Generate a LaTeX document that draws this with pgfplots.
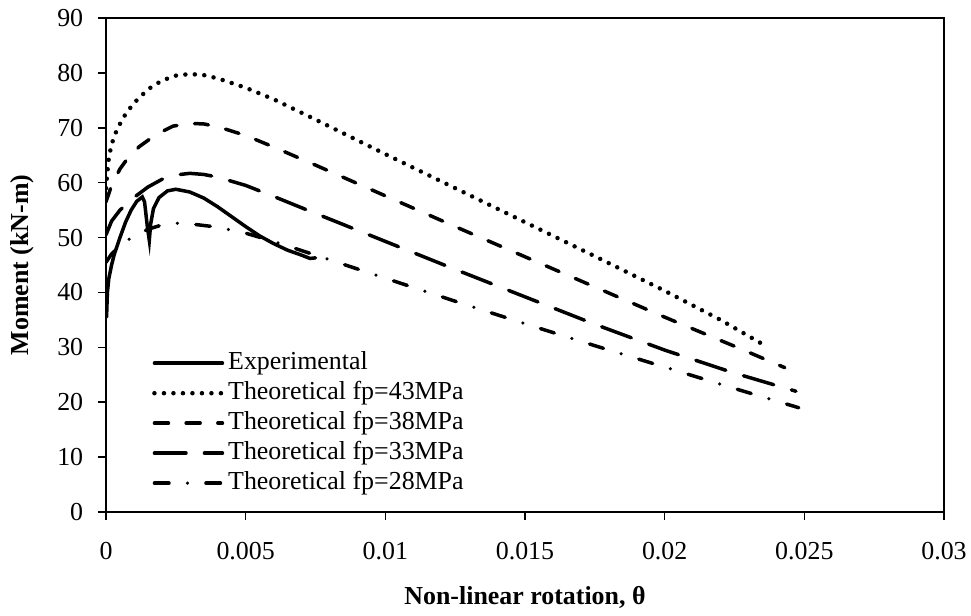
\documentclass[border=0pt]{standalone}
\usepackage{fontspec}
\setmainfont{Liberation Serif}
\usepackage{pgfplots}
\pgfplotsset{compat=1.18}

\begin{document}
\fontsize{26}{31}\selectfont
\begin{tikzpicture}
\useasboundingbox (-106bp,-104bp) rectangle (865bp,512bp);
\begin{axis}[
scale only axis,
width=838bp, height=494bp,
xmin=0, xmax=0.03,
ymin=0, ymax=90,
xtick={0,0.005,0.01,0.015,0.02,0.025,0.03},
xticklabels={0,0.005,0.01,0.015,0.02,0.025,0.03},
scaled x ticks=false,
ytick={0,10,20,30,40,50,60,70,80,90},
xtick pos=left, ytick pos=left,
tick align=outside,
major tick length=8bp,
axis line style={line width=1.5bp},
tick style={line width=1.5bp, black},
/pgf/number format/assume math mode=true,
xticklabel style={yshift=-13bp},
yticklabel style={xshift=-6bp},
xlabel={\bfseries Non-linear rotation, θ},
ylabel={\bfseries Moment (kN-m)},
xlabel style={at={(axis description cs:0.5,-0.172)}, anchor=center},
ylabel style={at={(axis description cs:-0.1002,0.5)}, anchor=center},
legend cell align=left,
legend style={draw=none, fill=none, inner sep=0pt, row sep=0pt,
  at={(axis description cs:0.0549,0.332)}, anchor=north west,
  nodes={inner xsep=3.5bp, inner ysep=2.5bp, text height=18.5bp, text depth=6.5bp}},
legend image code/.code={\draw[#1] (0bp,0bp) -- (68bp,0bp);},
every axis plot/.append style={line width=3.5bp, black, line cap=round},
]

% experimental
\addplot[solid] coordinates {
(0.00002,35.5) (0.00005,40) (0.0001,42.5) (0.0002,45) (0.0003,47)
(0.0005,50) (0.0007,52.8) (0.0009,55) (0.0011,56.6) (0.0013,57.4)
(0.00138,56.5) (0.00148,52) (0.00155,49.5) (0.0016,52.5) (0.0017,55.3)
(0.0019,57.3) (0.0022,58.5) (0.0025,58.8) (0.003,58.3) (0.0035,57.2)
(0.004,55.6) (0.0045,53.8) (0.005,52) (0.0055,50.3) (0.006,48.9)
(0.0065,47.7) (0.007,46.8) (0.0073,46.2) (0.0075,46.3)
};

% fp = 43 MPa
\addplot[line width=4.5bp, dash pattern=on 0bp off 9.5bp] coordinates {
(0,59) (0.00005,62) (0.0001,64.5) (0.0002,67) (0.0004,69.8) (0.0007,72.5)
(0.001,74.5) (0.0015,77) (0.002,78.6) (0.0025,79.5) (0.003,79.8)
(0.0035,79.6) (0.004,79) (0.005,77.3) (0.006,75.2) (0.0075,71.5)
(0.01,65.2) (0.0125,59) (0.015,52.8) (0.0175,46.6) (0.02,40.3)
(0.022,35) (0.0235,30.6)
};

% fp = 38 MPa
\addplot[dash pattern=on 14bp off 17.7bp] coordinates {
(0,56.5) (0.0002,59.5) (0.0005,62.5) (0.0008,64.6) (0.0012,66.6)
(0.0018,68.8) (0.0024,70.3) (0.003,70.8) (0.0035,70.7) (0.004,70.2)
(0.005,68.6) (0.006,66.5) (0.0075,63.2) (0.01,57.6) (0.0125,52)
(0.015,46.5) (0.0175,41) (0.02,35.5) (0.0225,30.2) (0.0243,26.3)
};

% fp = 33 MPa
\addplot[dash pattern=on 31.5bp off 18.5bp] coordinates {
(0,50.5) (0.0002,53) (0.0005,55) (0.001,57.3) (0.0015,59.2) (0.002,60.6)
(0.0025,61.4) (0.003,61.7) (0.0035,61.5) (0.004,61) (0.005,59.5)
(0.006,57.5) (0.0075,54.4) (0.01,49.3) (0.0125,44.2) (0.015,39.2)
(0.0175,34.2) (0.02,29.5) (0.0225,25.3) (0.0247,22)
};

% fp = 28 MPa
\addplot[dash pattern=on 14.5bp off 18.5bp on 0bp off 18.5bp] coordinates {
(0,45.5) (0.0002,47) (0.0005,48.5) (0.001,50.3) (0.0015,51.5) (0.002,52.3)
(0.0025,52.6) (0.003,52.5) (0.004,51.9) (0.005,50.8) (0.006,49.3)
(0.0075,46.8) (0.01,42.6) (0.0125,38.4) (0.015,34.3) (0.0175,30.3)
(0.02,26.4) (0.0225,22.5) (0.0248,19)
};

\legend{
Experimental,
Theoretical fp=43MPa,
Theoretical fp=38MPa,
Theoretical fp=33MPa,
Theoretical fp=28MPa
}
\end{axis}
\end{tikzpicture}
\end{document}
